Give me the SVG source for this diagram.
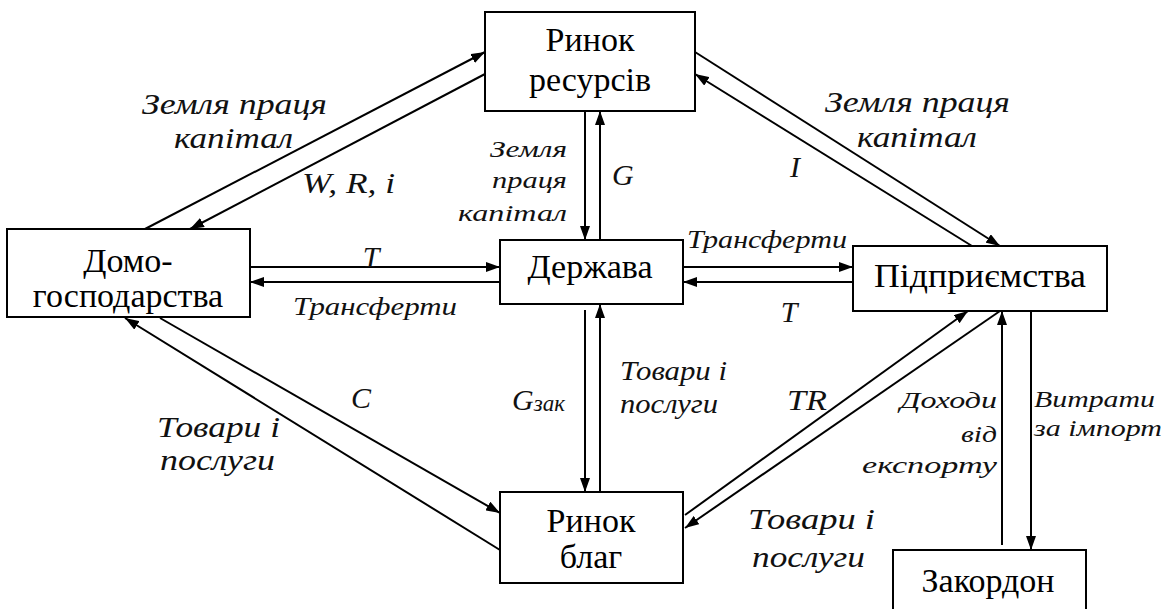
<svg xmlns="http://www.w3.org/2000/svg" width="1169" height="609" viewBox="0 0 1169 609">
<style>
.box{fill:#fff;stroke:#000;stroke-width:2}
.n{font-family:'Liberation Serif','Times New Roman',serif;font-size:34px;fill:#000;text-anchor:middle}
.l{font-family:'Liberation Serif','Times New Roman',serif;font-style:italic;fill:#111}
.b{font-size:30px}
.m{font-size:27px}
.t{font-size:25px}
.s{font-size:23px}
.c{text-anchor:middle}
.ln{stroke:#000;stroke-width:2;fill:none;marker-end:url(#ah)}
</style>
<defs>
<marker id="ah" markerUnits="userSpaceOnUse" markerWidth="14" markerHeight="10" refX="14" refY="5" orient="auto">
<path d="M0,0 L14,5 L0,10 z" fill="#000"/>
</marker>
</defs>
<rect width="1169" height="609" fill="#fff"/>
<g id="connectors">
<line class="ln" x1="145" y1="229" x2="485" y2="52"/>
<line class="ln" x1="485" y1="74" x2="190" y2="229"/>
<line class="ln" x1="585" y1="111" x2="585" y2="240"/>
<line class="ln" x1="600" y1="240" x2="600" y2="111"/>
<line class="ln" x1="250" y1="267" x2="500" y2="267"/>
<line class="ln" x1="500" y1="282" x2="250" y2="282"/>
<line class="ln" x1="683" y1="267" x2="853" y2="267"/>
<line class="ln" x1="853" y1="282" x2="683" y2="282"/>
<line class="ln" x1="695" y1="52" x2="1000" y2="246"/>
<line class="ln" x1="972" y1="246" x2="695" y2="74"/>
<line class="ln" x1="160" y1="318" x2="500" y2="513"/>
<line class="ln" x1="500" y1="550" x2="125" y2="318"/>
<line class="ln" x1="585" y1="310" x2="585" y2="492"/>
<line class="ln" x1="600" y1="492" x2="600" y2="304"/>
<line class="ln" x1="685" y1="515" x2="968" y2="311"/>
<line class="ln" x1="1000" y1="311" x2="685" y2="528"/>
<line class="ln" x1="1002" y1="545" x2="1002" y2="311"/>
<line class="ln" x1="1031" y1="311" x2="1031" y2="550"/>
</g>
<g id="rynok-resursiv">
<rect class="box" x="485" y="12" width="210" height="99"/>
<text class="n" x="590" y="51">Ринок</text>
<text class="n" x="590" y="91">ресурсів</text>
</g>
<g id="domohospodarstva">
<rect class="box" x="7" y="229" width="243" height="88"/>
<text class="n" x="128" y="272">Домо-</text>
<text class="n" x="128" y="307">господарства</text>
</g>
<g id="derzhava">
<rect class="box" x="500" y="240" width="183" height="64"/>
<text class="n" x="590" y="278">Держава</text>
</g>
<g id="pidpryiemstva">
<rect class="box" x="853" y="246" width="254" height="65"/>
<text class="n" x="980" y="287" textLength="212" lengthAdjust="spacingAndGlyphs">Підприємства</text>
</g>
<g id="rynok-blah">
<rect class="box" x="500" y="492" width="183" height="91"/>
<text class="n" x="591" y="532">Ринок</text>
<text class="n" x="591" y="568">благ</text>
</g>
<g id="zakordon">
<rect class="box" x="893" y="550" width="193" height="70"/>
<text class="n" x="988" y="592">Закордон</text>
</g>
<g id="labels">
<text class="l b" x="142" y="114" textLength="185" lengthAdjust="spacingAndGlyphs">Земля праця</text>
<text class="l b" x="174" y="148" textLength="119" lengthAdjust="spacingAndGlyphs">капітал</text>
<text class="l b" x="302" y="193" textLength="93" lengthAdjust="spacingAndGlyphs">W, R, i</text>
<text class="l s" x="490" y="157" textLength="77" lengthAdjust="spacingAndGlyphs">Земля</text>
<text class="l s" x="492" y="188" textLength="75" lengthAdjust="spacingAndGlyphs">праця</text>
<text class="l s" x="458" y="221" textLength="109" lengthAdjust="spacingAndGlyphs">капітал</text>
<text class="l b" x="612" y="185">G</text>
<text class="l b" x="790" y="177">I</text>
<text class="l b" x="825" y="112" textLength="185" lengthAdjust="spacingAndGlyphs">Земля праця</text>
<text class="l b" x="857" y="147" textLength="120" lengthAdjust="spacingAndGlyphs">капітал</text>
<text class="l b c" x="371" y="267">T</text>
<text class="l t" x="293" y="315" textLength="164" lengthAdjust="spacingAndGlyphs">Трансферти</text>
<text class="l t" x="687" y="248" textLength="160" lengthAdjust="spacingAndGlyphs">Трансферти</text>
<text class="l b c" x="789" y="322">T</text>
<text class="l b c" x="361" y="408">C</text>
<text class="l b" x="157" y="437" textLength="123" lengthAdjust="spacingAndGlyphs">Товари і</text>
<text class="l b" x="160" y="470" textLength="115" lengthAdjust="spacingAndGlyphs">послуги</text>
<text class="l b" x="512" y="410">G<tspan font-size="23" dy="1">зак</tspan></text>
<text class="l m" x="620" y="380" textLength="107" lengthAdjust="spacingAndGlyphs">Товари і</text>
<text class="l m" x="620" y="413" textLength="98" lengthAdjust="spacingAndGlyphs">послуги</text>
<text class="l b" x="787" y="410" textLength="40" lengthAdjust="spacingAndGlyphs">TR</text>
<text class="l b" x="748" y="529" textLength="127" lengthAdjust="spacingAndGlyphs">Товари і</text>
<text class="l b" x="752" y="567" textLength="113" lengthAdjust="spacingAndGlyphs">послуги</text>
<text class="l s" x="900" y="408" textLength="97" lengthAdjust="spacingAndGlyphs">Доходи</text>
<text class="l s" x="961" y="442" textLength="36" lengthAdjust="spacingAndGlyphs">від</text>
<text class="l s" x="862" y="473" textLength="135" lengthAdjust="spacingAndGlyphs">експорту</text>
<text class="l s" x="1034" y="407" textLength="121" lengthAdjust="spacingAndGlyphs">Витрати</text>
<text class="l s" x="1034" y="436" textLength="128" lengthAdjust="spacingAndGlyphs">за імпорт</text>
</g>
</svg>
